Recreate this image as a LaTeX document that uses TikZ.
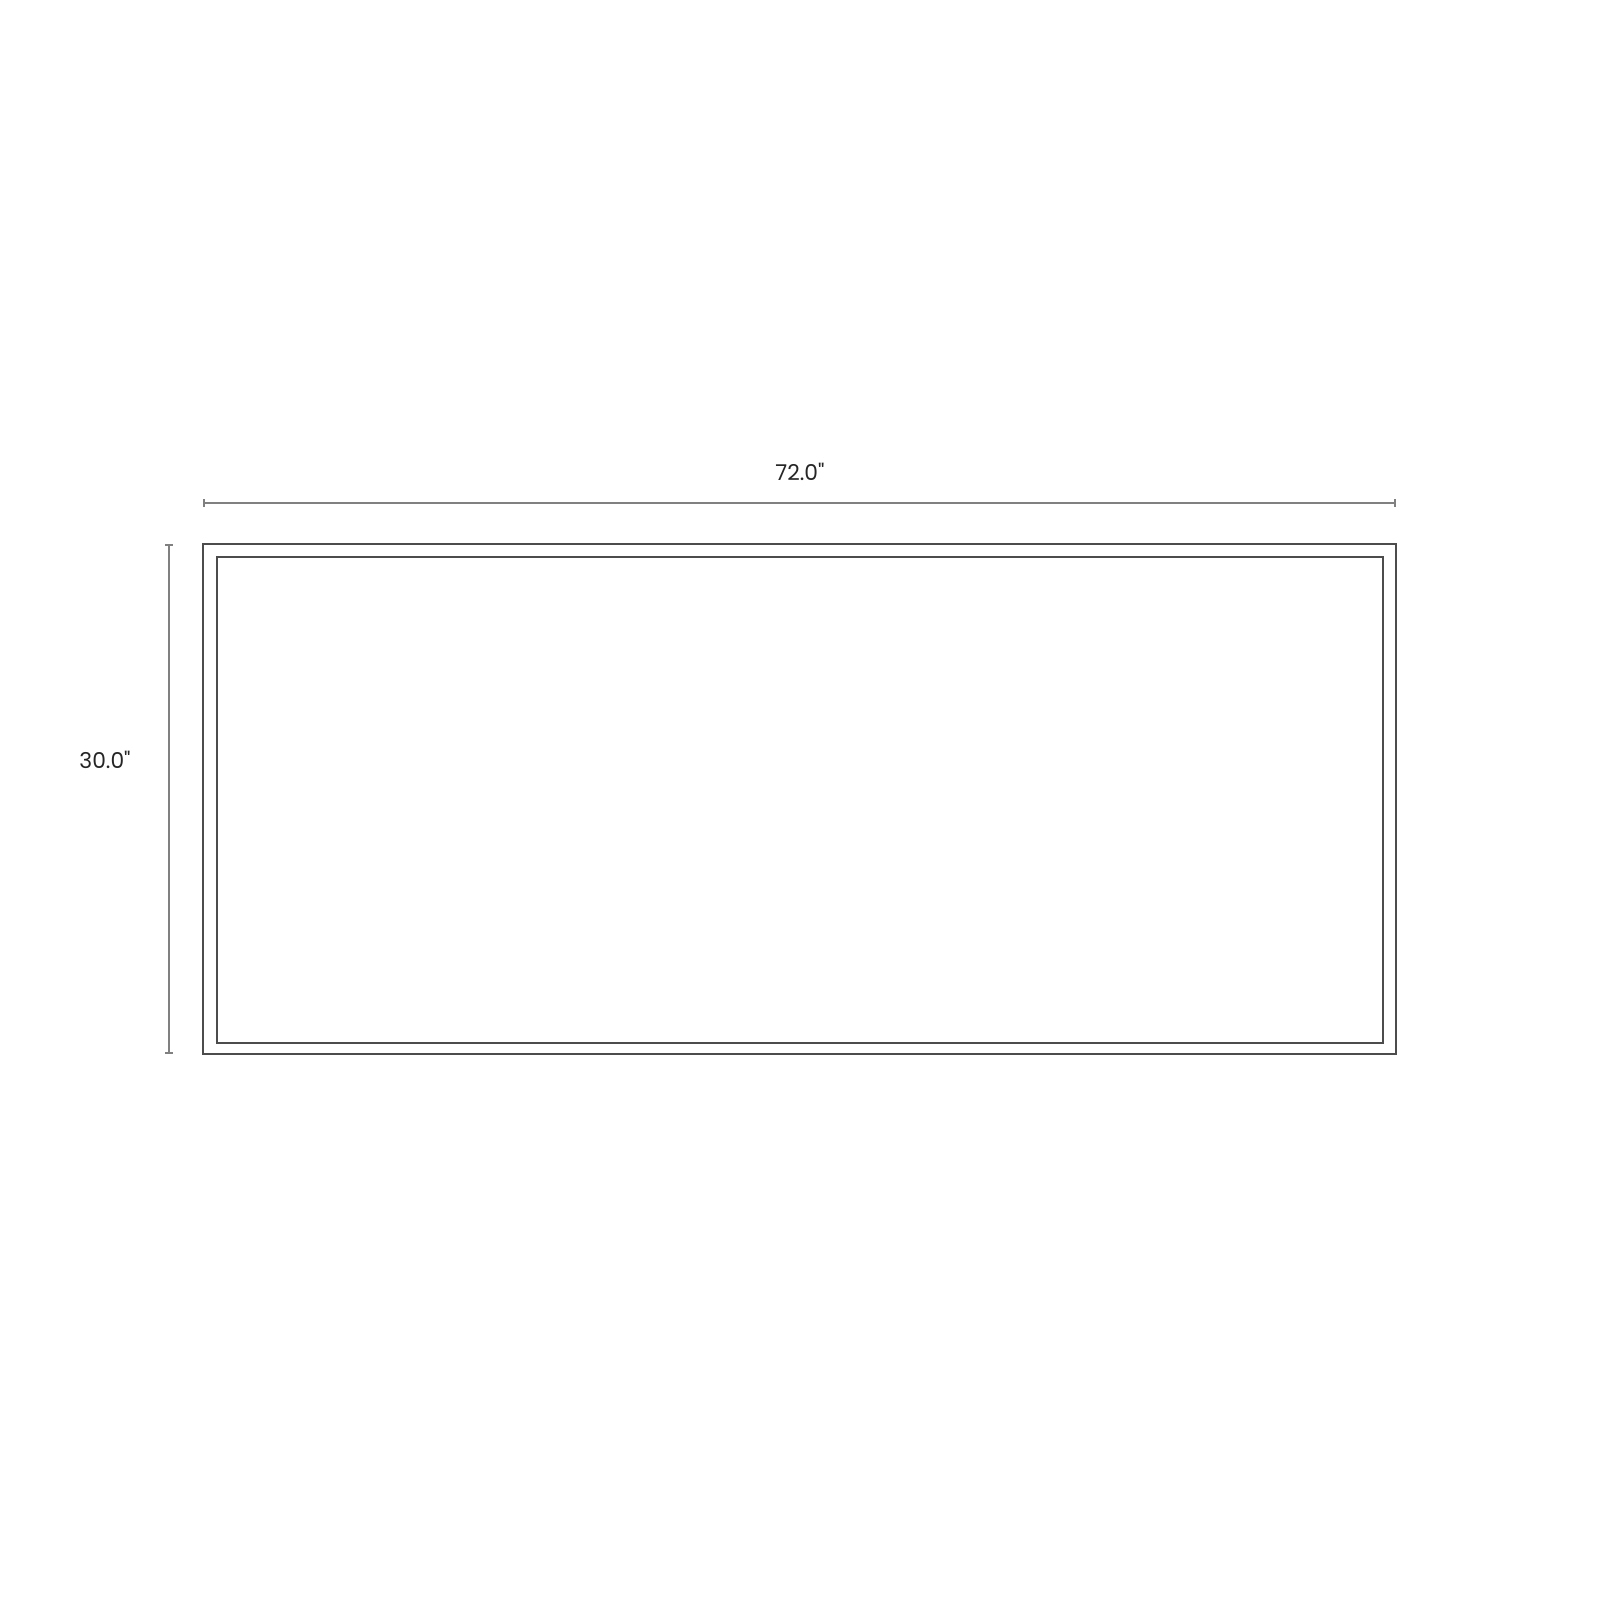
\documentclass[tikz,border=0pt]{standalone}
\usepackage{fontspec}
\setmainfont{Poppins}
\usepackage{tikz}
\usetikzlibrary{arrows.meta}

\begin{document}
\begin{tikzpicture}[
	frame/.style = {draw=black!70, line width=0.6pt},
	dimline/.style = {draw=black!50, line width=0.45pt, {Bar[width=2.2pt]}-{Bar[width=2.2pt]}},
	dimlabel/.style = {font=\fontsize{6.2}{7}\selectfont, text=black!85, inner sep=0pt}
	]
	\useasboundingbox[fill=white] (0,0) rectangle (16,16);

	% table top
	\coordinate (OuterSW) at (2.03,5.46);
	\coordinate (OuterNE) at (13.96,10.56);
	\coordinate (InnerSW) at (2.17,5.57);
	\coordinate (InnerNE) at (13.83,10.43);
	\draw[frame] (OuterSW) rectangle (OuterNE);
	\draw[frame] (InnerSW) rectangle (InnerNE);

	% dimensions
	\coordinate (WidthL) at (2.03,10.97);
	\coordinate (WidthR) at (13.96,10.97);
	\coordinate (DepthT) at (1.69,10.56);
	\coordinate (DepthB) at (1.69,5.46);
	\draw[dimline] (WidthL) -- (WidthR);
	\draw[dimline] (DepthT) -- (DepthB);
	\node[dimlabel] (Width) at (8.00,11.28) {72.0\textquotedbl};
	\node[dimlabel] (Depth) at (1.05,8.40) {30.0\textquotedbl};
\end{tikzpicture}
\end{document}
